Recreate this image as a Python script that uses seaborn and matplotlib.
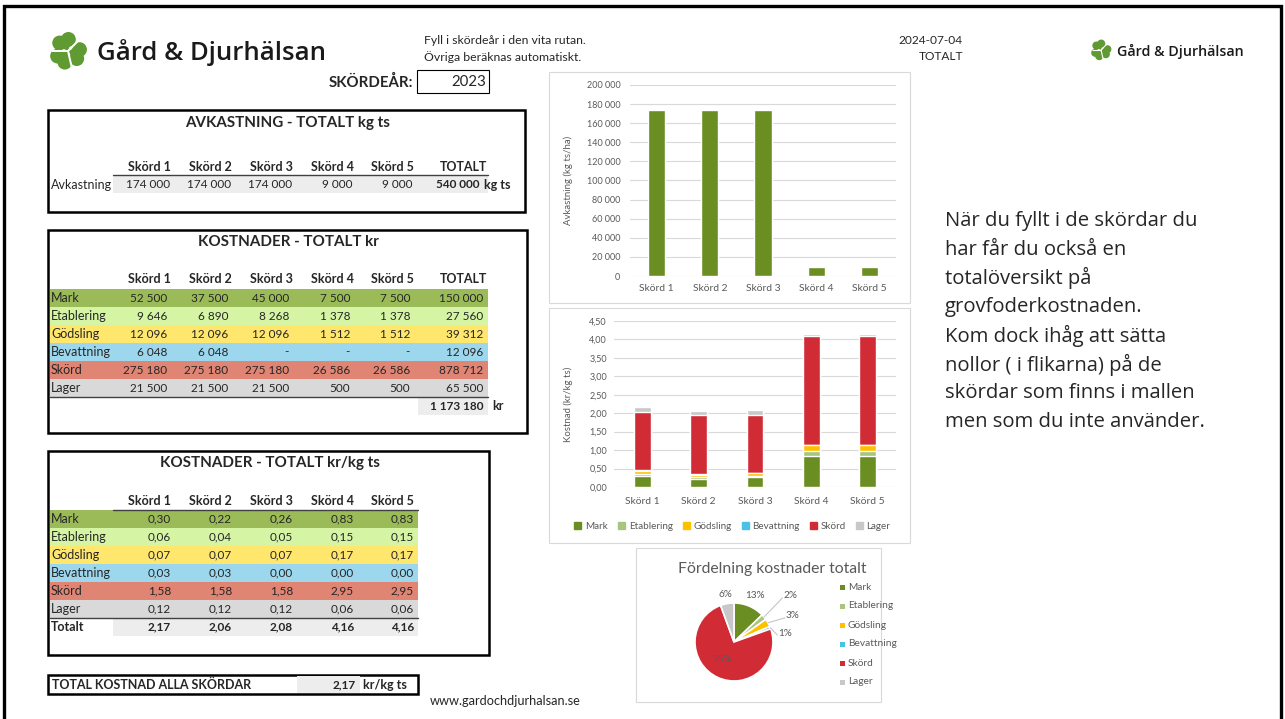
import matplotlib
matplotlib.use("Agg")
import matplotlib.pyplot as plt
import numpy as np
import seaborn as sns
from matplotlib.patches import Rectangle, Circle, Patch, Polygon

# ---- data read from the sheet ----
harvests = ["Skörd 1", "Skörd 2", "Skörd 3", "Skörd 4", "Skörd 5"]
cost_types = ["Mark", "Etablering", "Gödsling", "Bevattning", "Skörd", "Lager"]

yield_kg = [174000, 174000, 174000, 9000, 9000]
yield_total = 540000

mark_kr = [52500, 37500, 45000, 7500, 7500]
etablering_kr = [9646, 6890, 8268, 1378, 1378]
godsling_kr = [12096, 12096, 12096, 1512, 1512]
bevattning_kr = [6048, 6048, 0, 0, 0]
skord_kr = [275180, 275180, 275180, 26586, 26586]
lager_kr = [21500, 21500, 21500, 500, 500]
total_kr_by_type = [150000, 27560, 39312, 12096, 878712, 65500]
grand_total_kr = 1173180

mark_per_kg = [0.30, 0.22, 0.26, 0.83, 0.83]
etablering_per_kg = [0.06, 0.04, 0.05, 0.15, 0.15]
godsling_per_kg = [0.07, 0.07, 0.07, 0.17, 0.17]
bevattning_per_kg = [0.03, 0.03, 0.00, 0.00, 0.00]
skord_per_kg = [1.58, 1.58, 1.58, 2.95, 2.95]
lager_per_kg = [0.12, 0.12, 0.12, 0.06, 0.06]
total_per_kg = [2.17, 2.06, 2.08, 4.16, 4.16]
overall_per_kg = 2.17

kr_rows = [mark_kr, etablering_kr, godsling_kr, bevattning_kr, skord_kr, lager_kr]
per_kg_rows = [mark_per_kg, etablering_per_kg, godsling_per_kg,
               bevattning_per_kg, skord_per_kg, lager_per_kg]

# ---- styling ----
row_colors = ["#9bbb59", "#d5f5a5", "#ffe66d", "#9dd7ee", "#e08473", "#d9d9d9"]
bar_colors = ["#6b8e23", "#a9c47f", "#ffc000", "#4bc0e8", "#d12b36", "#c8c8c8"]
txt_gray = "#595959"
leaf_green = "#5f9a32"

W, H = 1285, 719
sns.set_theme(style="white")
plt.rcParams["font.family"] = ["Lato", "DejaVu Sans"]
OPEN = ["Open Sans", "DejaVu Sans"]

fig = plt.figure(figsize=(W / 100, H / 100), dpi=100)
cv = fig.add_axes([0, 0, 1, 1])
cv.set_xlim(0, W)
cv.set_ylim(H, 0)
cv.axis("off")


def px_axes(x0, y0, x1, y1):
    return fig.add_axes([x0 / W, 1 - y1 / H, (x1 - x0) / W, (y1 - y0) / H])


def kr_fmt(v):
    return "-" if v == 0 else f"{v:,.0f}".replace(",", " ")


def dec_fmt(v):
    return f"{v:.2f}".replace(".", ",")


def box(x0, y0, x1, y1, **kw):
    cv.add_patch(Rectangle((x0, y0), x1 - x0, y1 - y0, **kw))


def clover(cx, cy, R):
    # three heart-shaped leaves around a centre, split by thin white lines
    for th in [112, -17, -130]:
        pts = [(cx, cy)]
        for off in (-24, 24):
            a = np.deg2rad(th + off)
            cv.add_patch(Circle((cx + 0.58 * R * np.cos(a), cy - 0.58 * R * np.sin(a)),
                                0.37 * R, color=leaf_green, lw=0))
        for off in (-42, 42):
            a = np.deg2rad(th + off)
            pts.append((cx + 0.75 * R * np.cos(a), cy - 0.75 * R * np.sin(a)))
        cv.add_patch(Polygon(pts, closed=True, color=leaf_green, lw=0))
    for th in [45, 180, 283]:
        a = np.deg2rad(th)
        cv.plot([cx, cx + 0.8 * R * np.cos(a)], [cy, cy - 0.8 * R * np.sin(a)],
                color="white", lw=R / 14, solid_capstyle="butt")


# page frame
cv.plot([4, 4, 1281, 1281], [719, 6, 6, 719], color="black", lw=2.4, solid_joinstyle="miter")

# header
clover(68, 51, 20)
cv.text(97, 53, "Gård & Djurhälsan", fontsize=18.5, fontweight="semibold", va="center",
        color="#1a1a1a", family=OPEN)
clover(1101, 50, 11)
cv.text(1117, 51, "Gård & Djurhälsan", fontsize=10.3, fontweight="semibold", va="center",
        color="#1a1a1a", family=OPEN)
cv.text(424, 40, "Fyll i skördeår i den vita rutan.", fontsize=8.8, va="center")
cv.text(424, 57, "Övriga beräknas automatiskt.", fontsize=8.8, va="center")
cv.text(963, 40, "2024-07-04", fontsize=8.6, va="center", ha="right")
cv.text(963, 57, "TOTALT", fontsize=8.6, va="center", ha="right")
cv.text(413, 82, "SKÖRDEÅR:", fontsize=10.8, fontweight="bold", va="center", ha="right")
box(417, 70, 489, 93, fill=False, edgecolor="black", lw=0.8)
cv.text(486, 82, "2023", fontsize=10.8, va="center", ha="right")

cols = [171, 232, 293, 354, 414, 487]
fs = 8.5      # numbers
fl = 9.0      # labels / bold text
ft = 10.9     # table titles

# ---- table 1: yield ----
box(48, 110, 525, 212, fill=False, edgecolor="black", lw=1.8)
cv.text(288, 123, "AVKASTNING - TOTALT kg ts", fontsize=ft, fontweight="bold",
        ha="center", va="center")
for x, lab in zip(cols, harvests + ["TOTALT"]):
    cv.text(x, 167, lab, fontsize=fl, fontweight="bold", ha="right", va="center")
box(113, 175, 488, 193, color="#ededed", lw=0)
cv.plot([113, 488], [175, 175], color="#404040", lw=1)
cv.text(51, 185, "Avkastning", fontsize=fl, va="center")
for x, v in zip(cols, yield_kg):
    cv.text(x - 1, 185, kr_fmt(v), fontsize=fs, ha="right", va="center")
cv.text(479, 185, kr_fmt(yield_total), fontsize=fs, fontweight="bold", ha="right", va="center")
cv.text(484, 185, "kg ts", fontsize=fl, fontweight="bold", va="center")

# ---- table 2: costs kr ----
box(48, 230, 527, 433, fill=False, edgecolor="black", lw=1.8)
cv.text(288, 242, "KOSTNADER - TOTALT kr", fontsize=ft, fontweight="bold",
        ha="center", va="center")
for x, lab in zip(cols, harvests + ["TOTALT"]):
    cv.text(x, 279, lab, fontsize=fl, fontweight="bold", ha="right", va="center")
for i, (name, vals) in enumerate(zip(cost_types, kr_rows)):
    y0 = 289 + i * 18
    box(50, y0, 488, y0 + 18, color=row_colors[i], lw=0)
    cv.text(51, y0 + 9, name, fontsize=fl, va="center")
    for x, v in zip(cols, vals + [total_kr_by_type[i]]):
        cv.text(x - 4, y0 + 9, kr_fmt(v), fontsize=fs, ha="right", va="center")
cv.plot([50, 488], [397, 397], color="#404040", lw=1)
box(418, 398, 488, 415, color="#ededed", lw=0)
cv.text(483, 406, kr_fmt(grand_total_kr), fontsize=fs, fontweight="bold", ha="right", va="center")
cv.text(492, 406, "kr", fontsize=fl, fontweight="bold", va="center")

# ---- table 3: costs kr/kg ts ----
box(48, 451, 489, 655, fill=False, edgecolor="black", lw=1.8)
cv.text(270, 463, "KOSTNADER - TOTALT kr/kg ts", fontsize=ft, fontweight="bold",
        ha="center", va="center")
for x, lab in zip(cols, harvests):
    cv.text(x, 501, lab, fontsize=fl, fontweight="bold", ha="right", va="center")
cv.plot([113, 418], [510, 510], color="#404040", lw=1)
for i, (name, vals) in enumerate(zip(cost_types, per_kg_rows)):
    y0 = 510 + i * 18
    box(50, y0, 418, y0 + 18, color=row_colors[i], lw=0)
    cv.text(51, y0 + 9, name, fontsize=fl, va="center")
    for x, v in zip(cols, vals):
        cv.text(x, y0 + 9, dec_fmt(v), fontsize=fs, ha="right", va="center")
cv.plot([50, 418], [618, 618], color="#404040", lw=1)
box(113, 619, 418, 636, color="#ededed", lw=0)
cv.text(51, 627, "Totalt", fontsize=fl, fontweight="bold", va="center")
for x, v in zip(cols, total_per_kg):
    cv.text(x, 627, dec_fmt(v), fontsize=fs, fontweight="bold", ha="right", va="center")

# ---- overall total ----
box(48, 675, 418, 694, fill=False, edgecolor="black", lw=1.8)
box(297, 676, 360, 693, color="#ededed", lw=0)
cv.text(52, 685, "TOTAL KOSTNAD ALLA SKÖRDAR", fontsize=fl, fontweight="bold", va="center")
cv.text(356, 685, dec_fmt(overall_per_kg), fontsize=fs, fontweight="bold", ha="right", va="center")
cv.text(363, 685, "kr/kg ts", fontsize=fl, fontweight="bold", va="center")
cv.text(430, 701, "www.gardochdjurhalsan.se", fontsize=9.2, va="center")

# ---- right-hand note ----
note = ["När du fyllt i de skördar du", "har får du också en", "totalöversikt på",
        "grovfoderkostnaden.", "Kom dock ihåg att sätta", "nollor ( i flikarna) på de",
        "skördar som finns i mallen", "men som du inte använder."]
for k, line in enumerate(note):
    cv.text(945, 221 + k * 28.7, line, fontsize=14.6, va="center", family=OPEN)

# chart frames
for x0, y0, x1, y1 in [(549, 72, 910, 303), (549, 308, 910, 543), (636, 548, 881, 702)]:
    box(x0, y0, x1, y1, fill=False, edgecolor="#d9d9d9", lw=0.8)


def style_chart(ax):
    sns.despine(ax=ax, left=True, bottom=True)
    ax.grid(axis="y", color="#d9d9d9", lw=0.8)
    ax.set_axisbelow(True)
    ax.set_xlabel("")
    ax.tick_params(length=0, labelsize=6.5, colors=txt_gray)
    ax.tick_params(axis="x", labelsize=7.4)
    ax.set_xlim(-0.5, 4.5)


# ---- chart 1: yield bars ----
ax1 = px_axes(630, 85, 896, 276)
sns.barplot(x=harvests, y=yield_kg, color=bar_colors[0], saturation=1, width=0.32, ax=ax1)
style_chart(ax1)
ax1.set_ylim(0, 200000)
ax1.set_yticks(np.arange(0, 200001, 20000))
ax1.set_yticklabels([kr_fmt(v) if v else "0" for v in np.arange(0, 200001, 20000)])
ax1.tick_params(axis="y", pad=7)
ax1.tick_params(axis="x", pad=6)
ax1.set_ylabel("Avkastning (kg ts/ha)", fontsize=6.9, color=txt_gray)
ax1.yaxis.set_label_coords((573 - 630) / 266, 0.5)

# ---- chart 2: stacked cost bars ----
ax2 = px_axes(614, 321, 896, 487)
stack = np.cumsum(np.array(per_kg_rows), axis=0)
for i in reversed(range(len(cost_types))):
    sns.barplot(x=harvests, y=stack[i], color=bar_colors[i], saturation=1, width=0.3, ax=ax2)
style_chart(ax2)
ax2.set_ylim(0, 4.5)
ax2.set_yticks(np.arange(0, 4.51, 0.5))
ax2.set_yticklabels([dec_fmt(v) for v in np.arange(0, 4.51, 0.5)])
ax2.tick_params(axis="y", pad=5)
ax2.tick_params(axis="x", pad=7)
ax2.set_ylabel("Kostnad (kr/kg ts)", fontsize=6.9, color=txt_gray)
ax2.yaxis.set_label_coords((573 - 614) / 282, 0.5)
handles = [Patch(color=c, label=n) for c, n in zip(bar_colors, cost_types)]
leg = ax2.legend(handles=handles, ncol=6, loc="center", bbox_to_anchor=(0.42, -0.235),
                 frameon=False, fontsize=7.1, handlelength=0.7, handleheight=0.7,
                 handletextpad=0.4, columnspacing=1.0)
for t in leg.get_texts():
    t.set_color(txt_gray)

# ---- pie: cost distribution ----
r_px = 39
axp = px_axes(734 - 60, 642 - 60, 734 + 60, 642 + 60)
wedges, _ = axp.pie(total_kr_by_type, colors=bar_colors, startangle=90, counterclock=False,
                    radius=1, wedgeprops=dict(edgecolor="white", lw=1.2))
axp.set_xlim(-60 / r_px, 60 / r_px)
axp.set_ylim(-60 / r_px, 60 / r_px)
axp.set_aspect("equal")
axp.axis("off")
shares = np.array(total_kr_by_type) / grand_total_kr * 100
label_xy = [(0.54, 1.18), (1.44, 1.18), (1.51, 0.67), (1.31, 0.23), (-0.31, -0.46), (-0.23, 1.23)]
leader = [False, True, True, True, False, False]
for w, p, (lx, ly), ld in zip(wedges, shares, label_xy, leader):
    axp.text(lx, ly, f"{p:.0f}%", fontsize=7.2, color=txt_gray, ha="center", va="center")
    if ld:
        th = np.deg2rad((w.theta1 + w.theta2) / 2)
        ex, ey = np.cos(th), np.sin(th)
        axp.plot([ex, lx - 0.2], [ey, ly - 0.05], color="#bfbfbf", lw=0.7)
cv.text(772, 569, "Fördelning kostnader totalt", fontsize=11.3, color=txt_gray,
        ha="center", va="center")
for k, (name, c) in enumerate(zip(cost_types, bar_colors)):
    y = 587 + k * 19
    cv.add_patch(Rectangle((839.5, y - 2.5), 5, 5, color=c, lw=0))
    cv.text(848, y, name, fontsize=7.3, color=txt_gray, va="center")

fig.savefig("out.png", dpi=100)
